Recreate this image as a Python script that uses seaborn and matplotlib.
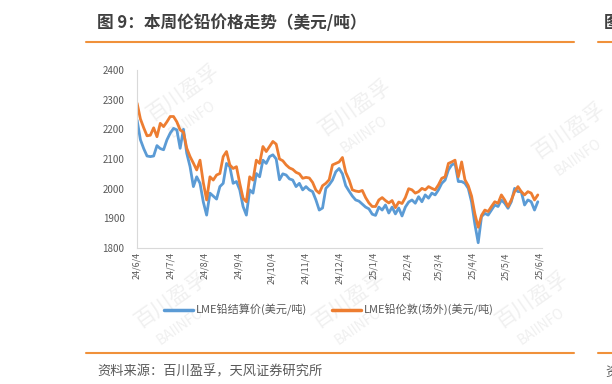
import pandas as pd
import matplotlib.pyplot as plt
import seaborn as sns

# LME lead prices, one reading every 3 days from 2024-06-04 (USD/t)
start_date = '2024-06-04'
settle_price = [
    2231, 2165, 2135, 2110, 2108, 2110, 2145, 2135, 2131, 2164,
    2187, 2203, 2198, 2136, 2200, 2119, 2074, 2007, 2040, 2018,
    1955, 1911, 1985, 1975, 1965, 2007, 2018, 2085, 2074, 2018,
    2024, 1996, 1940, 1911, 1996, 1985, 2051, 2040, 2096, 2085,
    2108, 2114, 2100, 2030, 2050, 2046, 2033, 2029, 2007, 2018,
    1996, 2007, 1996, 1990, 1962, 1928, 1935, 2001, 2013, 2029,
    2057, 2068, 2050, 2010, 1992, 1975, 1962, 1958, 1948, 1938,
    1932, 1914, 1910, 1938, 1928, 1945, 1918, 1938, 1915, 1935,
    1908, 1938, 1955, 1962, 1951, 1973, 1956, 1979, 1968, 1985,
    1979, 1996, 2018, 2029, 2063, 2080, 2085, 2024, 2024, 2018,
    2001, 1955, 1880, 1818, 1906, 1917, 1911, 1928, 1945, 1940,
    1962, 1951, 1934, 1956, 2001, 1990, 1990, 1945, 1962, 1956,
    1928, 1956,
]
otc_price = [
    2288, 2235, 2205, 2178, 2180, 2205, 2175, 2220, 2209, 2225,
    2243, 2243, 2225, 2198, 2190, 2136, 2108, 2086, 2063, 2096,
    2020, 1962, 2040, 2029, 2046, 2051, 2108, 2125, 2080, 2068,
    2074, 2018, 1968, 1956, 2040, 2029, 2096, 2085, 2142, 2125,
    2142, 2159, 2150, 2100, 2094, 2080, 2070, 2065, 2055, 2050,
    2035, 2038, 2036, 2021, 1995, 1985, 2010, 2018, 2030, 2080,
    2085, 2090, 2105, 2055, 2030, 1996, 1992, 1990, 1994, 1970,
    1952, 1940, 1940, 1962, 1970, 1960, 1952, 1960, 1936, 1955,
    1950, 1970, 2000, 1996, 1985, 1990, 2001, 1996, 2007, 2001,
    1996, 2013, 2035, 2040, 2085, 2090, 2096, 2040, 2090, 2030,
    2010, 1975, 1915, 1870, 1910, 1928, 1923, 1940, 1956, 1951,
    1979, 1962, 1940, 1962, 1990, 2007, 1990, 1979, 1990, 1985,
    1962, 1979,
]
series_names = ['LME铅结算价(美元/吨)', 'LME铅伦敦(场外)(美元/吨)']
tick_dates = ['2024-06-04', '2024-07-04', '2024-08-04', '2024-09-04', '2024-10-04',
              '2024-11-04', '2024-12-04', '2025-01-04', '2025-02-04', '2025-03-04',
              '2025-04-04', '2025-05-04', '2025-06-04']
tick_labels = ['24/6/4', '24/7/4', '24/8/4', '24/9/4', '24/10/4', '24/11/4', '24/12/4',
               '25/1/4', '25/2/4', '25/3/4', '25/4/4', '25/5/4', '25/6/4']
y_ticks = [1800, 1900, 2000, 2100, 2200, 2300, 2400]

dates = pd.date_range(start_date, periods=len(settle_price), freq='3D')
df = pd.DataFrame({'date': dates, series_names[0]: settle_price, series_names[1]: otc_price})
long_df = df.melt(id_vars='date', var_name='series', value_name='price')

sns.set_style('white')
plt.rcParams['font.family'] = ['Noto Sans CJK SC', 'DejaVu Sans']

fig = plt.figure(figsize=(6.12, 3.84), dpi=100)
ax = fig.add_axes([0.224, 0.354, 0.662, 0.464])

# faint watermarks, drawn underneath the axes
for wx, wy in [(0.30, 0.76), (0.58, 0.72), (0.93, 0.66), (0.28, 0.22), (0.57, 0.22), (0.87, 0.22)]:
    fig.text(wx, wy, '百川盈孚', rotation=35, fontsize=15, color='#f0f0f0',
             ha='center', va='center', zorder=-1)
    fig.text(wx + 0.015, wy - 0.07, 'BAIINFO', rotation=35, fontsize=10, color='#f0f0f0',
             ha='center', va='center', zorder=-1)

sns.lineplot(data=long_df, x='date', y='price', hue='series', ax=ax,
             palette=['#5B9BD5', '#ED7D31'], linewidth=2.0, legend=True)
ax.patch.set_alpha(0)

ax.set_ylim(1800, 2400)
ax.set_yticks(y_ticks)
ax.set_xlim(pd.Timestamp('2024-06-04'), pd.Timestamp('2025-06-06'))
ax.set_xticks(pd.to_datetime(tick_dates))
ax.set_xticklabels(tick_labels, rotation=90, fontsize=6.5, color='#595959')
ax.tick_params(axis='y', labelsize=7, labelcolor='#595959', length=0, pad=9)
ax.tick_params(axis='x', length=0, pad=3)
ax.set_xlabel('')
ax.set_ylabel('')
for side in ['top', 'right']:
    ax.spines[side].set_visible(False)
for side in ['left', 'bottom']:
    ax.spines[side].set_color('#d9d9d9')
    ax.spines[side].set_linewidth(0.8)

handles, labels = ax.get_legend_handles_labels()
for h in handles:
    h.set_linewidth(2.5)
ax.legend(handles, labels, loc='center', bbox_to_anchor=(0.474, -0.348), ncol=2,
          frameon=False, fontsize=8, handlelength=2.6, handletextpad=0.3,
          columnspacing=2.2, labelcolor='#595959')

# page title, rules and source note
fig.text(97 / 612, 1 - 23 / 384, '图 9：本周伦铅价格走势（美元/吨）', fontsize=12,
         fontweight='bold', color='#404040', va='center', ha='left')
fig.text(604 / 612, 1 - 23 / 384, '图', fontsize=12, fontweight='bold',
         color='#404040', va='center', ha='left')
for y in [42, 353]:
    fig.add_artist(plt.Line2D([86 / 612, 574 / 612], [1 - y / 384] * 2,
                              color='#F0913A', linewidth=1.5))
    fig.add_artist(plt.Line2D([598 / 612, 1.0], [1 - y / 384] * 2,
                              color='#F0913A', linewidth=1.5))
fig.text(97 / 612, 1 - 372 / 384, '资料来源：百川盈孚，天风证券研究所', fontsize=9.5,
         color='#595959', va='center', ha='left')
fig.text(605 / 612, 1 - 372 / 384, '资', fontsize=9.5,
         color='#595959', va='center', ha='left')

fig.savefig('out.png', dpi=100)
